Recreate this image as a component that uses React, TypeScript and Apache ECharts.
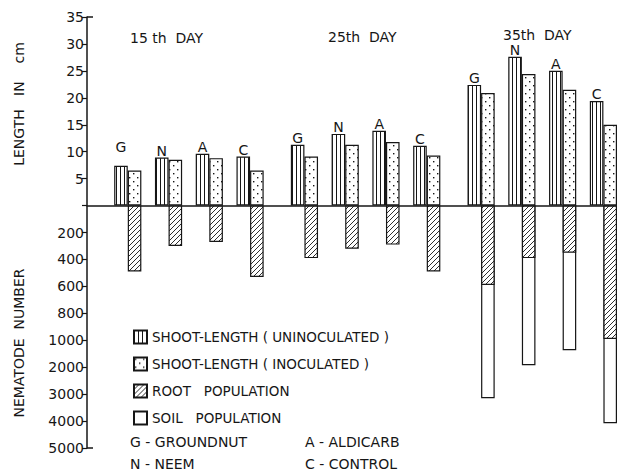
import React, { useEffect, useRef } from "react";
import * as echarts from "echarts";

const dayLabels = ["15 th  DAY", "25th  DAY", "35th  DAY"];
const treatments = ["G", "N", "A", "C"];
// shoot length in cm (15th G,N,A,C, 25th G,N,A,C, 35th G,N,A,C)
const shootUninoculated = [7.4, 8.9, 9.6, 9.1, 11.3, 13.3, 13.9, 11.1, 22.4, 27.6, 25.0, 19.4];
const shootInoculated = [6.5, 8.5, 8.8, 6.5, 9.1, 11.3, 11.8, 9.3, 20.9, 24.4, 21.5, 15.0];
// nematode numbers
const rootPopulation = [490, 300, 270, 530, 390, 320, 290, 490, 590, 390, 350, 990];
const soilPopulation = [null, null, null, null, null, null, null, null, 3150, 1930, 1370, 4080];
const keyTexts = ["G - GROUNDNUT", "N - NEEM", "A - ALDICARB", "C - CONTROL"];
const seriesNames = [
  "SHOOT-LENGTH ( UNINOCULATED )",
  "SHOOT-LENGTH ( INOCULATED )",
  "ROOT   POPULATION",
  "SOIL   POPULATION",
];

const INK = "#161616";
const FONT = "DejaVu Sans";

// piecewise scale: 1 unit = 5 cm above zero; below zero 200 per unit up to 1000, then 1000 per unit
function nemUnits(n: number): number {
  return n <= 1000 ? n / 200 : 5 + (n - 1000) / 1000;
}
function unitLabel(u: number): string {
  if (u > 0) return String(u * 5);
  if (u === 0) return "";
  const a = -u;
  return a <= 5 ? String(a * 200) : String((a - 5) * 1000 + 1000);
}

function makePattern(kind: string) {
  const c = document.createElement("canvas");
  const size = kind === "dots" ? 8 : kind === "hatch" ? 5 : 4;
  c.width = size;
  c.height = size;
  const ctx = c.getContext("2d")!;
  ctx.fillStyle = "#fff";
  ctx.fillRect(0, 0, size, size);
  ctx.fillStyle = INK;
  ctx.strokeStyle = INK;
  if (kind === "vlines") {
    ctx.fillRect(0, 0, 1, size);
  } else if (kind === "dots") {
    ctx.fillRect(1, 1, 1.4, 1.4);
    ctx.fillRect(5, 5, 1.4, 1.4);
  } else if (kind === "hatch") {
    ctx.lineWidth = 0.9;
    ctx.beginPath();
    ctx.moveTo(-1, size + 1);
    ctx.lineTo(size + 1, -1);
    ctx.moveTo(-1, 1);
    ctx.lineTo(1, -1);
    ctx.moveTo(size - 1, size + 1);
    ctx.lineTo(size + 1, size - 1);
    ctx.stroke();
  }
  return { image: c.toDataURL(), imageWidth: size, imageHeight: size, repeat: "repeat" } as any;
}

function txt(text: string, x: number, y: number, extra: any = {}) {
  return {
    type: "text",
    x,
    y,
    ...extra,
    style: {
      text,
      fill: INK,
      fontFamily: FONT,
      fontSize: 14,
      textVerticalAlign: "middle",
      ...(extra.style || {}),
    },
  };
}

export default function App() {
  const ref = useRef<HTMLDivElement>(null);
  useEffect(() => {
    if (!ref.current) return;
    const chart = echarts.init(ref.current, null, { renderer: "svg" });
    const SLOTS = 39;
    const cats = Array.from({ length: SLOTS }, (_, i) => String(i));
    const uninoc: any[] = Array(SLOTS).fill(null);
    const inoc: any[] = Array(SLOTS).fill(null);
    const root: any[] = Array(SLOTS).fill(null);
    const soil: any[] = Array(SLOTS).fill(null);
    for (let d = 0; d < 3; d++) {
      for (let t = 0; t < 4; t++) {
        const i = d * 4 + t;
        const s = 2 + d * 13 + t * 3;
        uninoc[s] = { value: shootUninoculated[i] / 5, letter: treatments[t] };
        inoc[s + 1] = shootInoculated[i] / 5;
        root[s + 1] = -nemUnits(rootPopulation[i]);
        const sp = soilPopulation[i];
        soil[s + 1] = sp == null ? null : -nemUnits(sp);
      }
    }
    // 15th day letters sit on a common line
    uninoc[2].label = { distance: 13 };

    const border = { borderColor: INK, borderWidth: 1.2 };
    const common = { type: "bar", barWidth: "100%", barGap: "-100%", silent: true };

    chart.setOption({
      animation: false,
      backgroundColor: "#fff",
      grid: { left: 87, right: 0, top: 17, bottom: 24, containLabel: false },
      xAxis: {
        type: "category",
        data: cats,
        axisLine: { onZero: true, lineStyle: { color: INK, width: 1.5 } },
        axisTick: { show: false },
        axisLabel: { show: false },
        splitLine: { show: false },
      },
      yAxis: {
        type: "value",
        min: -9,
        max: 7,
        interval: 1,
        axisLine: { show: true, lineStyle: { color: INK, width: 1.5 } },
        axisTick: { show: true, length: 5, lineStyle: { color: INK, width: 1.2 } },
        axisLabel: {
          color: INK,
          fontFamily: FONT,
          fontSize: 14,
          margin: 3,
          formatter: (v: number) => unitLabel(v),
        },
        splitLine: { show: false },
      },
      legend: {
        orient: "vertical",
        left: 128,
        top: 324,
        itemWidth: 13,
        itemHeight: 13,
        itemGap: 11,
        icon: "rect",
        selectedMode: false,
        data: seriesNames,
        textStyle: { color: INK, fontFamily: FONT, fontSize: 13.5, lineHeight: 16 },
      },
      series: [
        {
          ...common,
          name: seriesNames[3],
          data: soil,
          itemStyle: { color: "#fff", ...border },
        },
        {
          ...common,
          name: seriesNames[2],
          data: root,
          itemStyle: { color: makePattern("hatch"), ...border },
        },
        {
          ...common,
          name: seriesNames[0],
          data: uninoc,
          itemStyle: { color: makePattern("vlines"), ...border },
          label: {
            show: true,
            position: "top",
            distance: 1,
            color: INK,
            fontFamily: FONT,
            fontSize: 14,
            lineHeight: 12,
            formatter: (p: any) => (p.data && p.data.letter) || "",
          },
        },
        {
          ...common,
          name: seriesNames[1],
          data: inoc,
          itemStyle: { color: makePattern("dots"), ...border },
        },
      ],
      graphic: [
        ...dayLabels.map((t, i) => txt(t, [130, 328, 503][i], [38, 37, 35][i], { style: { lineHeight: 12 } })),
        txt("LENGTH   IN    cm", 19, 104, { rotation: Math.PI / 2, style: { textAlign: "center" } }),
        txt("NEMATODE  NUMBER", 19, 343, { rotation: Math.PI / 2, style: { textAlign: "center" } }),
        ...keyTexts.map((t, i) => txt(t, i < 2 ? 130 : 305, i % 2 === 0 ? 442 : 464)),
        { type: "line", shape: { x1: 87, y1: 17, x2: 93, y2: 17 }, style: { stroke: INK, lineWidth: 1.5 } },
        { type: "line", shape: { x1: 87, y1: 448, x2: 93, y2: 448 }, style: { stroke: INK, lineWidth: 1.5 } },
      ],
    });
    return () => chart.dispose();
  }, []);
  return (
    <div
      ref={ref}
      style={{ position: "fixed", left: 0, top: 0, width: 617, height: 472, background: "#fff" }}
    />
  );
}
